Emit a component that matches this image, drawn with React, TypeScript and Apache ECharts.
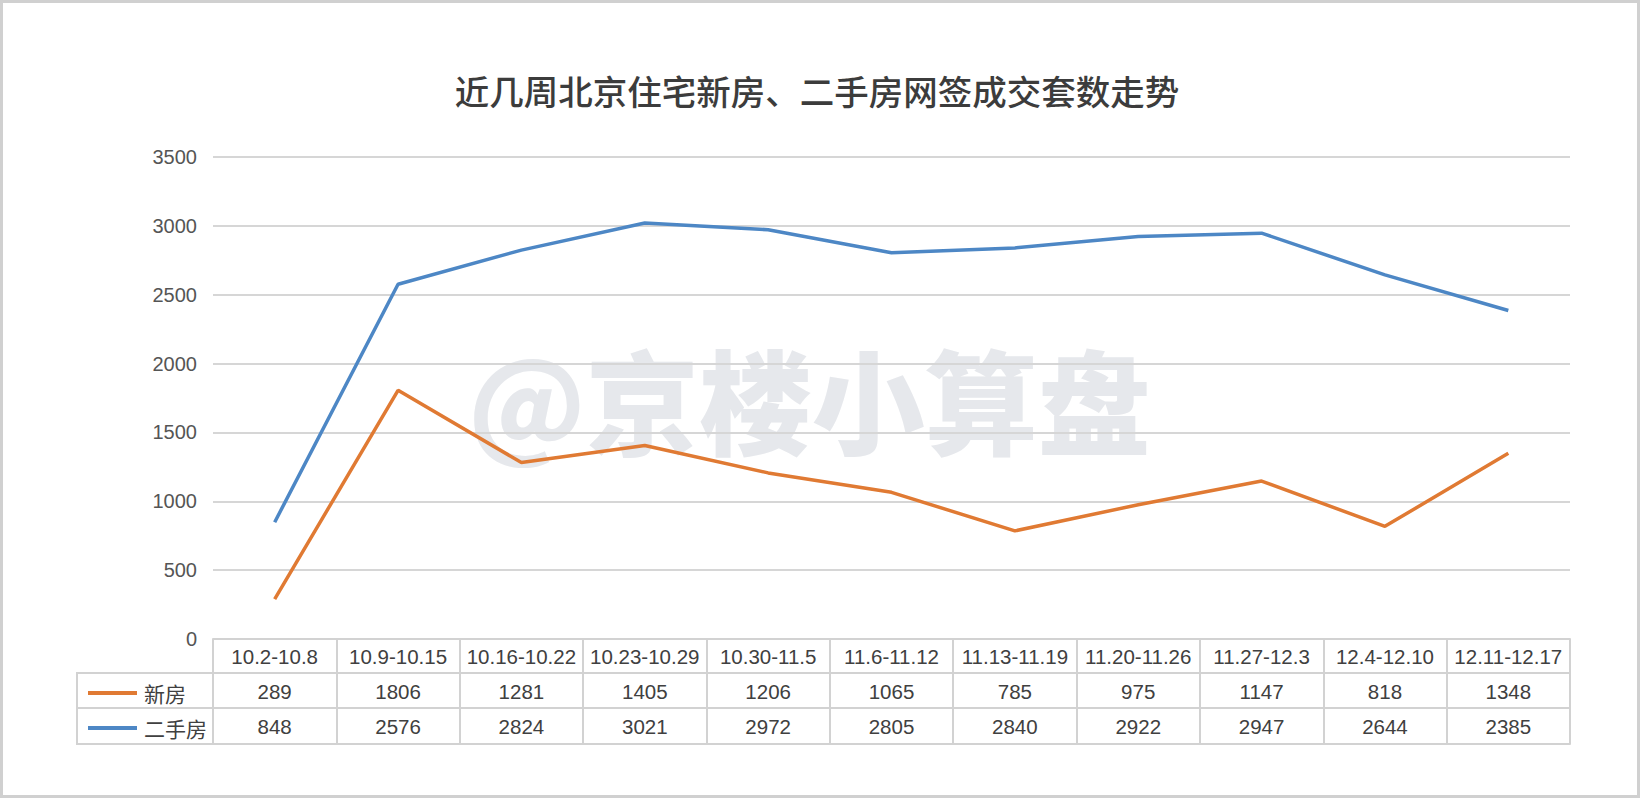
import React, { useEffect, useRef } from "react";
import * as echarts from "echarts";

const weeks = [
  "10.2-10.8", "10.9-10.15", "10.16-10.22", "10.23-10.29", "10.30-11.5",
  "11.6-11.12", "11.13-11.19", "11.20-11.26", "11.27-12.3", "12.4-12.10", "12.11-12.17",
];
const newHomes = [289, 1806, 1281, 1405, 1206, 1065, 785, 975, 1147, 818, 1348];
const resale = [848, 2576, 2824, 3021, 2972, 2805, 2840, 2922, 2947, 2644, 2385];
const seriesNames = ["新房", "二手房"];
const titleText = "近几周北京住宅新房、二手房网签成交套数走势";
const watermark = "@京楼小算盘";

const FONT = "'Liberation Sans', Arial, 'Noto Sans CJK SC', sans-serif";
const CJK = "'Noto Sans CJK SC', sans-serif";
const LINE = "#d2d2d2";
const TEXT = "#404040";

export default function App() {
  const ref = useRef<HTMLDivElement>(null);
  useEffect(() => {
    if (!ref.current) return;
    const chart = echarts.init(ref.current, undefined, { renderer: "svg" });
    const rowAxis = (data: (string | number)[], offset: number, show: boolean) => ({
      type: "category",
      position: "bottom",
      gridIndex: 0,
      offset,
      data: data.map(String),
      boundaryGap: true,
      axisLine: { show: true, lineStyle: { color: LINE, width: 2 } },
      axisTick: { show: false },
      axisLabel: {
        show,
        interval: 0,
        margin: 8,
        fontSize: 20.5,
        color: TEXT,
        fontFamily: FONT,
      },
      splitLine: { show: false },
    });
    chart.setOption({
      animation: false,
      backgroundColor: "#ffffff",
      title: {
        text: titleText,
        left: 812,
        textAlign: "center",
        top: 68,
        textStyle: { fontSize: 34.5, fontWeight: 500, color: "#3c3c3c", fontFamily: CJK },
      },
      graphic: [
        {
          type: "text",
          left: 468,
          top: 340,
          z: -10,
          style: {
            text: watermark,
            font: `900 113px ${CJK}`,
            fill: "#e6e8ec",
          },
        },
        {
          type: "rect",
          shape: { x: 1.5, y: 1.5, width: 1637, height: 795 },
          style: { fill: "none", stroke: "#d0d0d0", lineWidth: 3 },
          silent: true,
        },
        {
          type: "polyline",
          shape: { points: [[213, 673], [77, 673], [77, 744], [213, 744]] },
          style: { stroke: LINE, lineWidth: 2, fill: "none" },
        },
        {
          type: "line",
          shape: { x1: 77, y1: 708, x2: 213, y2: 708 },
          style: { stroke: LINE, lineWidth: 2 },
        },
      ],
      legend: {
        orient: "vertical",
        left: 83,
        top: 677,
        itemWidth: 49,
        itemHeight: 4,
        itemGap: 13,
        icon: "rect",
        data: seriesNames,
        textStyle: {
          fontSize: 21,
          lineHeight: 22,
          color: TEXT,
          fontFamily: CJK,
          padding: [0, 0, 0, 2],
        },
      },
      grid: { left: 213, right: 74, top: 157, bottom: 161, containLabel: false },
      xAxis: [
        {
          ...rowAxis(weeks, 0, true),
          axisTick: { show: true, interval: 0, length: 105, lineStyle: { color: LINE, width: 2 } },
          axisLabel: { interval: 0, margin: 7, fontSize: 20.5, color: TEXT, fontFamily: FONT },
        },
        rowAxis(newHomes, 34, true),
        rowAxis(resale, 69, true),
        rowAxis(weeks, 105, false),
      ],
      yAxis: {
        type: "value",
        min: 0,
        max: 3500,
        interval: 500,
        axisLine: { show: false },
        axisTick: { show: false },
        axisLabel: {
          margin: 16,
          fontSize: 20,
          color: "#555555",
          fontFamily: FONT,
          formatter: (v: number) => String(v),
        },
        splitLine: { lineStyle: { color: "#d6d6d6", width: 2 } },
      },
      series: [
        {
          name: seriesNames[0],
          type: "line",
          xAxisIndex: 0,
          data: newHomes,
          symbol: "none",
          color: "#e07a33",
          lineStyle: { width: 3.5, color: "#e07a33" },
          z: 3,
        },
        {
          name: seriesNames[1],
          type: "line",
          xAxisIndex: 0,
          data: resale,
          symbol: "none",
          color: "#4d87c5",
          lineStyle: { width: 3.5, color: "#4d87c5" },
          z: 3,
        },
      ],
    });
    return () => chart.dispose();
  }, []);
  return (
    <div
      ref={ref}
      style={{ position: "absolute", left: 0, top: 0, width: 1644, height: 800 }}
    />
  );
}
